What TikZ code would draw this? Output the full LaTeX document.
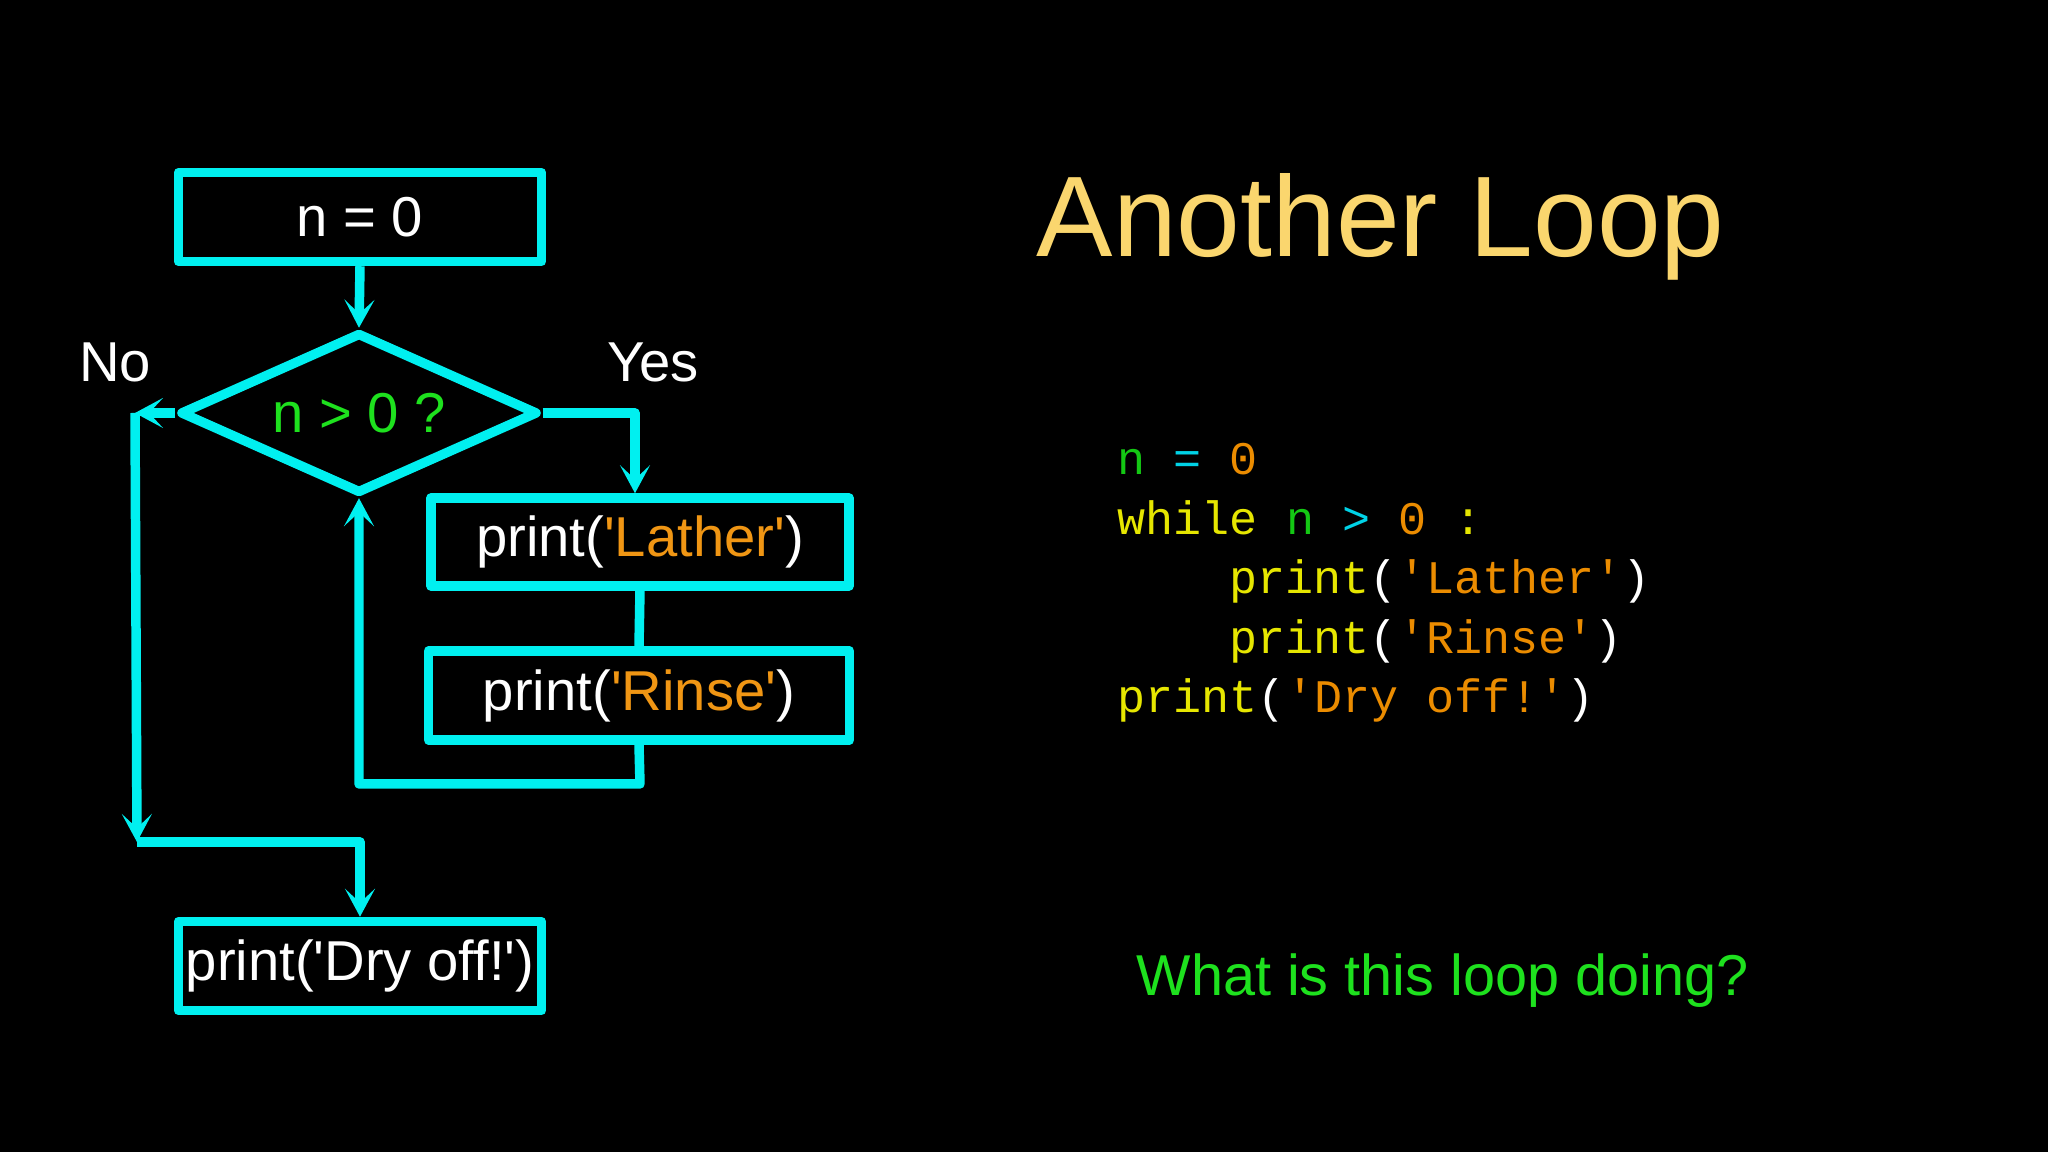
\documentclass[tikz,border=0pt]{standalone}
\usepackage{fontspec}
\setmainfont{Liberation Sans}
\setmonofont{Liberation Mono}
\usepackage{xcolor}
\usepackage{tikz}
\usetikzlibrary{
    positioning,
    arrows.meta,
    shapes.geometric,
    calc
}

\definecolor{flowcyan}{RGB}{0,240,240}
\definecolor{strorange}{RGB}{240,150,20}
\definecolor{titlegold}{RGB}{250,214,110}
\definecolor{askgreen}{RGB}{30,225,30}
\definecolor{kwyellow}{RGB}{230,230,0}
\definecolor{codeorange}{RGB}{235,140,0}
\definecolor{vargreen}{RGB}{20,200,20}
\definecolor{opcyan}{RGB}{0,210,230}

\newcommand{\qmk}{\textquotesingle}
\newcommand{\strg}[1]{\textcolor{strorange}{#1}}

\begin{document}
\begin{tikzpicture}[font=\fontsize{16}{19}\selectfont,
  stepbox/.style={draw=flowcyan, line width=2.7pt, line join=round, minimum width=3.63cm, minimum height=0.89cm,
               text=white, text centered, inner sep=0.05cm},
  decide/.style={diamond, draw=flowcyan, line width=2.7pt, line join=round, aspect=2.3,
                minimum width=3.58cm, minimum height=1.61cm, inner sep=0pt, text=askgreen},
  arr/.style={-{Stealth[length=0.28cm, width=0.3cm, inset=0.14cm]}, line width=2.7pt, line join=round, draw=flowcyan},
  link/.style={line width=2.7pt, draw=flowcyan},
  lbl/.style={text=white},
  code/.style={anchor=base west, inner sep=0pt, font=\ttfamily\fontsize{13.3}{16}\selectfont}]

  % Black slide
  \fill[black] (0,0) rectangle (20.48,11.52);
  \useasboundingbox (0,0) rectangle (20.48,11.52);

  % Flowchart boxes (top to bottom)
  \node[stepbox] (S0) at (3.60,9.35) {n = 0};

  \node[decide] (Q) at (3.59,7.39) {n > 0 ?};

  \node[stepbox, minimum width=4.18cm, minimum height=0.88cm] (S1) at (6.40,6.10)
    {print(\strg{\qmk Lather\qmk})};

  \node[stepbox, minimum width=4.21cm] (S2) at (6.39,4.565)
    {print(\strg{\qmk Rinse\qmk})};

  \node[stepbox] (S3) at (3.60,1.86) {print(\qmk Dry off!\qmk)};

  % Branch labels
  \node[lbl] (No)  at (1.15,7.90) {No};
  \node[lbl] (Yes) at (6.53,7.90) {Yes};

  % Bend points
  \coordinate (NoBend) at (1.35,7.39);
  \coordinate (NoJoin) at (1.37,3.10);
  \coordinate (Back)   at (6.40,3.68);

  % Connectors
  \draw[arr]  (S0.south) to (Q.north);
  \draw[arr]  (Q.east) -| ($(S1.north)+(-0.05,0)$);
  \draw[link] (S1.south) to (S2.north);
  \draw[arr]  (S2.south) -- (Back) -| (Q.south);
  \draw[arr]  (Q.west) to (NoBend);
  \draw[arr]  (NoBend) to (NoJoin);
  \draw[arr]  (NoJoin) -| (S3.north);

  % Title
  \node[anchor=base west, inner sep=0pt, text=titlegold, font=\fontsize{32.6}{38}\selectfont]
    (Title) at (10.36,8.95) {Another Loop};

  % Python code
  \node[code] (C1) at (11.17,6.77)
    {\textcolor{vargreen}{n} \textcolor{opcyan}{=} \textcolor{codeorange}{0}};
  \node[code] (C2) at (11.17,6.175)
    {\textcolor{kwyellow}{while} \textcolor{vargreen}{n} \textcolor{opcyan}{>} \textcolor{codeorange}{0} \textcolor{kwyellow}{:}};
  \node[code] (C3) at (12.29,5.58)
    {\textcolor{kwyellow}{print}\textcolor{white}{(}\textcolor{codeorange}{\qmk Lather\qmk}\textcolor{white}{)}};
  \node[code] (C4) at (12.29,4.985)
    {\textcolor{kwyellow}{print}\textcolor{white}{(}\textcolor{codeorange}{\qmk Rinse\qmk}\textcolor{white}{)}};
  \node[code] (C5) at (11.17,4.39)
    {\textcolor{kwyellow}{print}\textcolor{white}{(}\textcolor{codeorange}{\qmk Dry off!\qmk}\textcolor{white}{)}};

  % Question
  \node[anchor=base west, inner sep=0pt, text=askgreen, font=\fontsize{16.4}{20}\selectfont]
    (Ask) at (11.36,1.56) {What is this loop doing?};
\end{tikzpicture}
\end{document}
